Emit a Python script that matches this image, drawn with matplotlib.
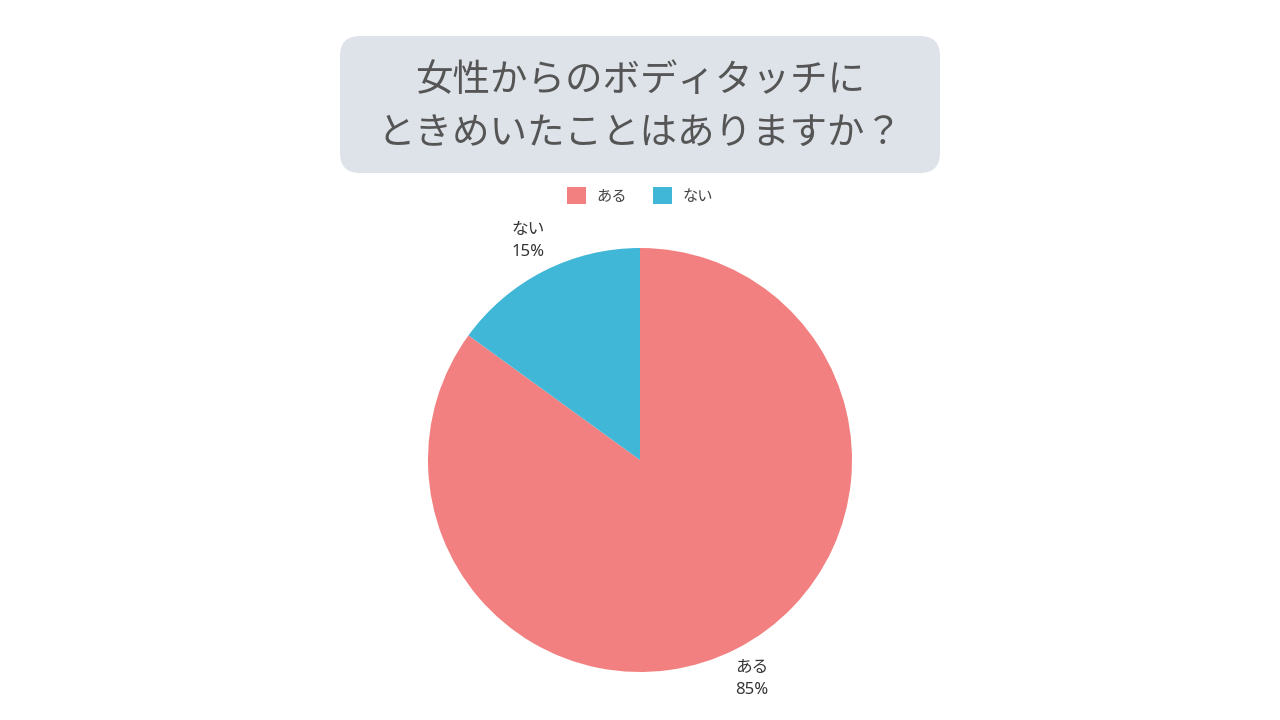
import matplotlib
matplotlib.use("Agg")
import matplotlib.pyplot as plt
from matplotlib.patches import FancyBboxPatch

plt.rcParams['font.family'] = ['Noto Sans', 'Noto Sans CJK JP', 'DejaVu Sans']

categories = ["ある", "ない"]
values = [85, 15]
colors = ["#F28080", "#41B7D7"]
title_lines = ["女性からのボディタッチに", "ときめいたことはありますか？"]

W, H = 1280, 720
fig = plt.figure(figsize=(12.8, 7.2), dpi=100)
fig.patch.set_facecolor("white")

# Title box (drawn in pixel units)
box = FancyBboxPatch((340, H - 173), 600, 137,
                     boxstyle="round,pad=0,rounding_size=20",
                     transform=None, facecolor="#DEE3E9", edgecolor="none")
fig.patches.append(box)
fig.text(640 / W, 1 - 80 / H, title_lines[0], ha="center", va="center",
         fontsize=27, color="#555555", family=['Noto Sans CJK JP', 'DejaVu Sans'])
fig.text(640 / W, 1 - 133 / H, title_lines[1], ha="center", va="center",
         fontsize=27, color="#555555", family=['Noto Sans CJK JP', 'DejaVu Sans'])

# Pie
cx, cy, r = 640, 460, 212
ax = fig.add_axes([(cx - r) / W, (H - cy - r) / H, 2 * r / W, 2 * r / H])
labels = [f"{c}\n{v}%" for c, v in zip(categories, values)]
wedges, texts = ax.pie(values, colors=colors, startangle=90, counterclock=False,
                       labels=labels, labeldistance=1.16,
                       textprops=dict(fontsize=12, color="#333333",
                                      ha="center", va="center", linespacing=1.55),
                       wedgeprops=dict(linewidth=0))
for t in texts:
    t.set_horizontalalignment("center")
    t.set_verticalalignment("center")
ax.set_xlim(-1, 1)
ax.set_ylim(-1, 1)
ax.set_aspect("equal")
ax.axis("off")

# Legend
fig.legend(wedges, categories, loc="center", bbox_to_anchor=(640 / W, 1 - 196 / H),
           ncol=2, frameon=False, fontsize=11, handlelength=1.25, handleheight=1.25,
           handletextpad=0.7, columnspacing=1.7, labelcolor="#444444")

fig.savefig("out.png", dpi=100, facecolor="white")
